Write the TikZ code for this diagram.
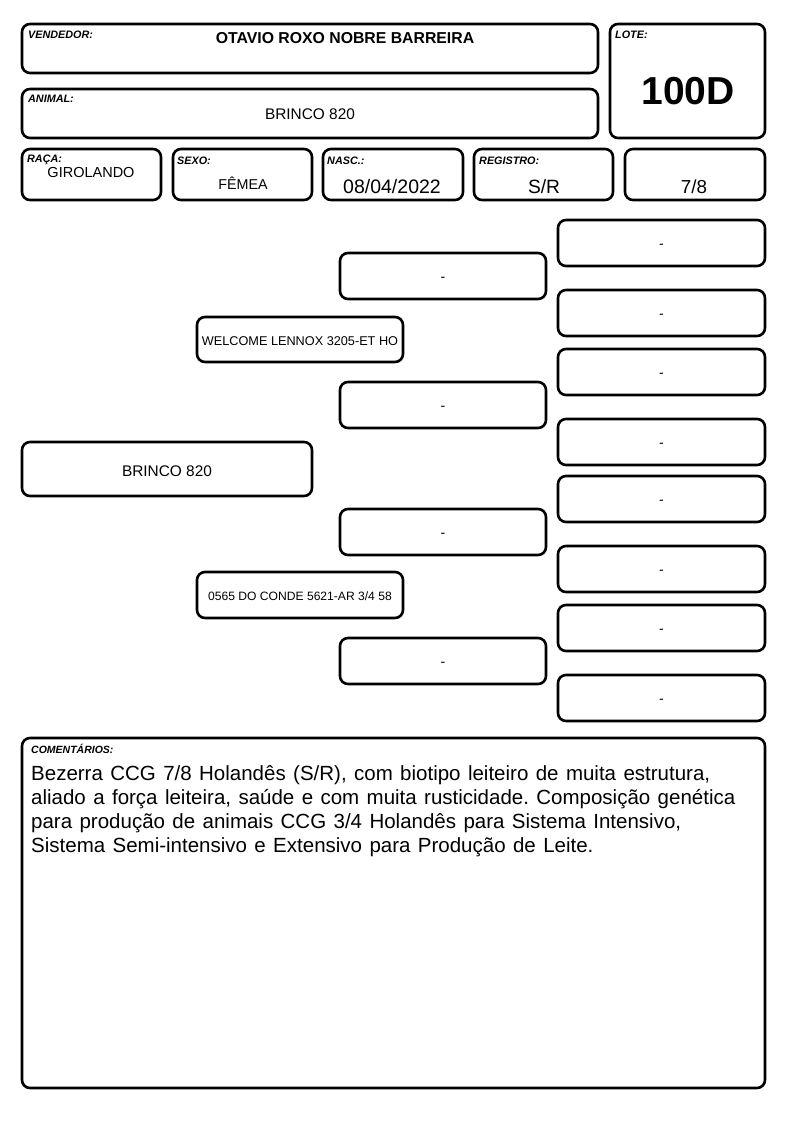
\documentclass[tikz,border=0pt]{standalone}
\usepackage{fontspec}
\setmainfont{Liberation Sans}
\usetikzlibrary{fit}
\frenchspacing
\newcommand\comfont{\fontsize{20.5}{24}\selectfont\spaceskip 7.4pt\relax}
\begin{document}
\begin{tikzpicture}[x=1pt,y=-1pt,
  box/.style={draw, line width=2.6pt, rounded corners=8pt, inner sep=0pt},
  lbl/.style={anchor=base west, inner sep=0pt, font=\fontsize{10.8}{12}\selectfont\bfseries\itshape},
  val/.style={anchor=base, inner sep=0pt},
  ctr/.style={anchor=center, inner sep=0pt, text height=0.716em, text depth=0pt},
  emptyval/.style={ctr, font=\fontsize{14}{16}\selectfont},
  comline/.style={anchor=base west, inner sep=0pt, font=\comfont},
  ]
\path[use as bounding box, fill=white] (0,0) rectangle (794,1123);
% header boxes
\node[box, fit={(22,24) (598,73)}] (vend) {};
\node[box, fit={(22,89) (598,138)}] (anim) {};
\node[box, fit={(610,24) (765,138)}] (lote) {};
\node[box, fit={(22,149) (161,200)}] (raca) {};
\node[box, fit={(173,149) (312,200)}] (sexo) {};
\node[box, fit={(323,149) (463,200)}] (nasc) {};
\node[box, fit={(474,149) (613,200)}] (reg) {};
\node[box, fit={(625,149) (765,200)}] (frac) {};
% header labels
\node[lbl] (vendl) at (28,39) {VENDEDOR:};
\node[val, font=\fontsize{15.8}{18}\selectfont\bfseries] (vendv) at (345,44) {OTAVIO ROXO NOBRE BARREIRA};
\node[lbl] (animl) at (28,103) {ANIMAL:};
\node[val, font=\fontsize{15.4}{18}\selectfont] (animv) at (310,120) {BRINCO 820};
\node[lbl] (lotel) at (615,39) {LOTE:};
\node[val, font=\fontsize{39}{44}\selectfont\bfseries] (lotev) at (688,105) {100D};
\node[lbl] (racal) at (27,163) {RAÇA:};
\node[val, font=\fontsize{14.5}{17}\selectfont] (racav) at (91,178) {GIROLANDO};
\node[lbl] (sexol) at (177,165) {SEXO:};
\node[val, font=\fontsize{14.3}{17}\selectfont] (sexov) at (243,190) {FÊMEA};
\node[lbl] (nascl) at (327,165) {NASC.:};
\node[val, font=\fontsize{19.5}{22}\selectfont] (nascv) at (392,194) {08/04/2022};
\node[lbl] (regl) at (479,165) {REGISTRO:};
\node[val, font=\fontsize{19.2}{22}\selectfont] (regv) at (544,194) {S/R};
\node[val, font=\fontsize{18.8}{22}\selectfont] (fracv) at (694,194) {7/8};
% pedigree boxes
\node[box, fit={(22,442) (312,496)}] (ped0) {};
\node[box, fit={(197,317) (403,362)}] (sire) {};
\node[box, fit={(197,572) (403,618)}] (dam) {};
\node[box, fit={(340,253) (546,299)}] (g1) {};
\node[box, fit={(340,382) (546,428)}] (g2) {};
\node[box, fit={(340,509) (546,555)}] (g3) {};
\node[box, fit={(340,638) (546,684)}] (g4) {};
\node[box, fit={(558,220) (765,266)}] (gg1) {};
\node[box, fit={(558,290) (765,336)}] (gg2) {};
\node[box, fit={(558,349) (765,395)}] (gg3) {};
\node[box, fit={(558,419) (765,465)}] (gg4) {};
\node[box, fit={(558,476) (765,522)}] (gg5) {};
\node[box, fit={(558,546) (765,592)}] (gg6) {};
\node[box, fit={(558,605) (765,651)}] (gg7) {};
\node[box, fit={(558,675) (765,721)}] (gg8) {};
% pedigree texts
\node[ctr, font=\fontsize{15.4}{18}\selectfont] (ped0t) at ([yshift=-4pt]ped0.center) {BRINCO 820};
\node[ctr, font=\fontsize{12.7}{15}\selectfont] (siret) at ([yshift=-2pt]sire.center) {WELCOME LENNOX 3205-ET HO};
\node[ctr, font=\fontsize{12.1}{15}\selectfont] (damt) at ([yshift=-2pt]dam.center) {0565 DO CONDE 5621-AR 3/4 58};
\foreach \n in {g1,g2,g3,g4,gg1,gg2,gg3,gg4,gg5,gg6,gg7,gg8}
  \node[emptyval] (\n t) at ([yshift=-2pt]\n.center) {-};
% comments
\node[box, fit={(22,738) (765,1088)}] (com) {};
\node[lbl, font=\fontsize{10.5}{12}\selectfont\bfseries\itshape] (coml) at (31,753) {COMENTÁRIOS:};
\node[comline] (c1) at (31,780) {Bezerra CCG 7/8 Holandês (S/R), com biotipo leiteiro de muita estrutura,};
\node[comline] (c2) at (31,804) {aliado a força leiteira, saúde e com muita rusticidade. Composição genética};
\node[comline] (c3) at (31,828) {para produção de animais CCG 3/4 Holandês para Sistema Intensivo,};
\node[comline] (c4) at (31,852) {Sistema Semi-intensivo e Extensivo para Produção de Leite.};
\end{tikzpicture}
\end{document}
